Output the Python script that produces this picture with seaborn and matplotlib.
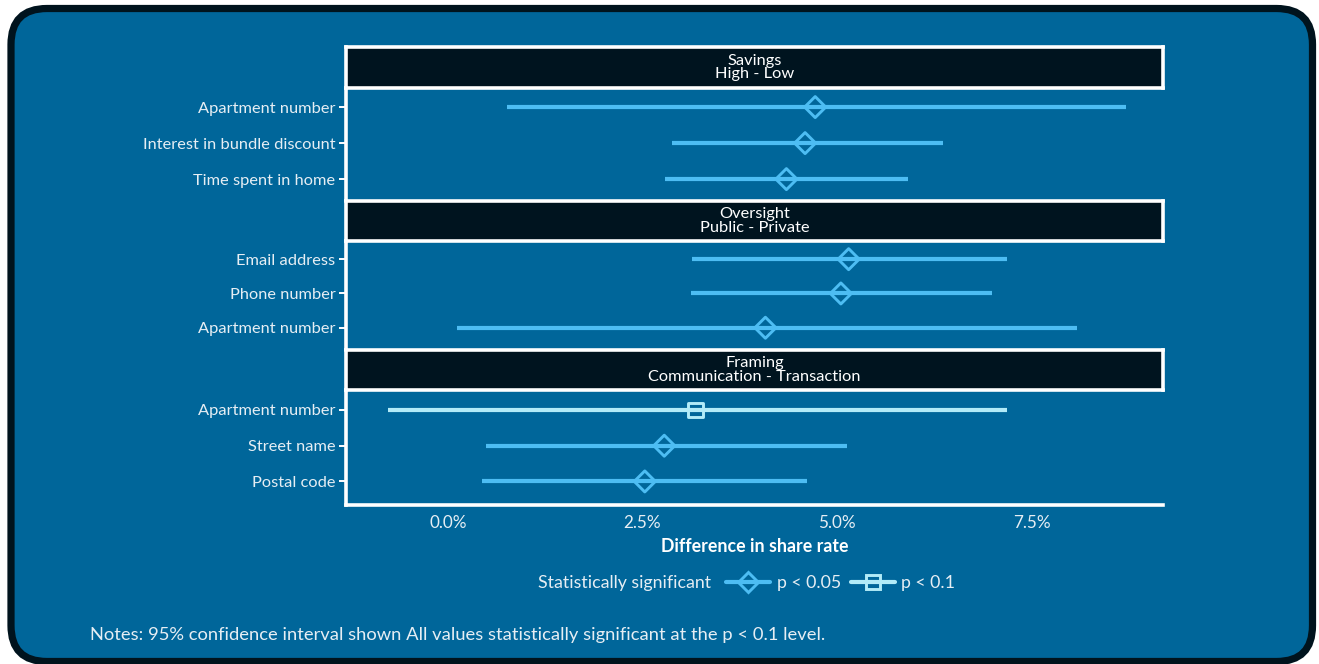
import matplotlib
matplotlib.use("Agg")
import matplotlib.pyplot as plt
import seaborn as sns
import pandas as pd
from matplotlib.lines import Line2D
from matplotlib.patches import FancyBboxPatch

# ---- data -------------------------------------------------------------
facet_titles = ["Savings\nHigh - Low",
                "Oversight\nPublic - Private",
                "Framing\nCommunication - Transaction"]
facet_index = [0, 0, 0, 1, 1, 1, 2, 2, 2]
row_in_facet = [0, 1, 2, 0, 1, 2, 0, 1, 2]
items = ["Apartment number", "Interest in bundle discount", "Time spent in home",
         "Email address", "Phone number", "Apartment number",
         "Apartment number", "Street name", "Postal code"]
estimate = [4.72, 4.59, 4.35, 5.15, 5.05, 4.08, 3.18, 2.78, 2.53]
ci_low = [0.76, 2.88, 2.79, 3.14, 3.13, 0.12, -0.77, 0.49, 0.44]
ci_high = [8.72, 6.36, 5.91, 7.18, 6.99, 8.09, 7.19, 5.13, 4.62]
significance = ["p < 0.05"] * 6 + ["p < 0.1", "p < 0.05", "p < 0.05"]
x_ticks = [0.0, 2.5, 5.0, 7.5]
sig_levels = ["p < 0.05", "p < 0.1"]

df = pd.DataFrame({"facet": facet_index, "row": row_in_facet, "item": items,
                   "estimate": estimate, "low": ci_low, "high": ci_high,
                   "sig": significance})

# ---- style ------------------------------------------------------------
BG = "#00669a"
BORDER = "#00131d"
STRIP = "#00141f"
TXT = "#e6eef4"
palette = {"p < 0.05": "#4dbdf3", "p < 0.1": "#b2ebf8"}
markers = {"p < 0.05": "D", "p < 0.1": "s"}
FS = 12.3
FS_Y = 11.8

sns.set_theme(style="white")
plt.rcParams["font.family"] = ["Lato", "DejaVu Sans"]
plt.rcParams["font.size"] = FS

W, H = 1319, 664
fig = plt.figure(figsize=(W / 100, H / 100), dpi=100)
fig.patch.set_facecolor("white")

# rounded card behind the chart (drawn in inches so corners stay circular)
card = FancyBboxPatch((0.11, 0.025), 13.015, 6.53,
                      boxstyle="round,pad=0,rounding_size=0.36",
                      transform=fig.dpi_scale_trans, facecolor=BG,
                      edgecolor=BORDER, linewidth=5.2, zorder=-10)
fig.patches.append(card)


def rect(x0, y0, x1, y1):
    return [x0 / W, 1 - y1 / H, (x1 - x0) / W, (y1 - y0) / H]


LEFT, RIGHT = 346, 1163
XLIM = (-1.31, 9.19)
strips = [(47, 88), (201, 241), (350, 390)]
panels = [(88, 200), (241, 349), (390, 505)]
panel_ylims = [(2.58, -0.53), (2.62, -0.53), (2.66, -0.56)]

for f in range(3):
    # strip header
    sy0, sy1 = strips[f]
    sax = fig.add_axes(rect(LEFT, sy0, RIGHT, sy1))
    sax.set_facecolor(STRIP)
    sax.set_xticks([]); sax.set_yticks([])
    for sp in sax.spines.values():
        sp.set_color("white"); sp.set_linewidth(2.6)
    sax.text(0.5, 0.5, facet_titles[f], ha="center", va="center",
             color="white", fontsize=FS - 0.5, linespacing=0.95,
             transform=sax.transAxes)

    # panel
    py0, py1 = panels[f]
    ax = fig.add_axes(rect(LEFT, py0, RIGHT, py1))
    ax.set_facecolor("none")
    sub = df[df["facet"] == f]

    ax.hlines(sub["row"], sub["low"], sub["high"],
              colors=[palette[s] for s in sub["sig"]], linewidth=3, zorder=2)
    sns.scatterplot(data=sub, x="estimate", y="row", hue="sig", style="sig",
                    hue_order=sig_levels, style_order=sig_levels,
                    palette=palette, markers=markers, s=115, linewidth=2.1,
                    legend=False, ax=ax, zorder=3)
    pts = ax.collections[-1]
    pts.set_edgecolors(pts.get_facecolors())
    pts.set_facecolors("none")

    ax.set_xlim(*XLIM)
    ax.set_ylim(*panel_ylims[f])
    ax.set_yticks(sub["row"].tolist())
    ax.set_yticklabels(sub["item"].tolist(), color=TXT, fontsize=FS_Y)
    ax.tick_params(axis="y", length=5, width=1.4, color="white", pad=2.5, left=True)
    ax.set_ylabel("")
    for name, sp in ax.spines.items():
        sp.set_visible(False)
    ax.spines["left"].set_visible(True)
    ax.spines["left"].set_color("white")
    ax.spines["left"].set_linewidth(2.6)
    if f == 2:
        ax.spines["bottom"].set_visible(True)
        ax.spines["bottom"].set_color("white")
        ax.spines["bottom"].set_linewidth(2.6)
        ax.set_xticks(x_ticks)
        ax.set_xticklabels([f"{t:.1f}%" for t in x_ticks], color=TXT, fontsize=FS)
        ax.tick_params(axis="x", length=0, pad=7)
        ax.set_xlabel("Difference in share rate", color="white", fontsize=FS + 0.5,
                      fontweight="bold", labelpad=5)
    else:
        ax.set_xticks([])
        ax.set_xlabel("")

# legend
fig.text(538 / W, 1 - 583 / H, "Statistically significant", color=TXT,
         fontsize=FS + 0.5, ha="left", va="center")
handles = [Line2D([], [], color=palette[s], lw=3, marker=markers[s],
                  markersize=10.5 if s == "p < 0.05" else 9.5,
                  markerfacecolor="none", markeredgecolor=palette[s],
                  markeredgewidth=2.1) for s in sig_levels]
fig.legend(handles, sig_levels, loc="center left",
           bbox_to_anchor=(710 / W, 1 - 583 / H), ncol=2, frameon=False,
           handlelength=2.5, handletextpad=0.35, columnspacing=0.55,
           labelcolor=TXT, fontsize=FS + 0.5)

fig.text(90 / W, 1 - 635 / H,
         "Notes: 95% confidence interval shown All values statistically "
         "significant at the p < 0.1 level.",
         color=TXT, fontsize=FS + 0.9, ha="left", va="center")

fig.savefig("out.png", dpi=100, facecolor=fig.get_facecolor())
